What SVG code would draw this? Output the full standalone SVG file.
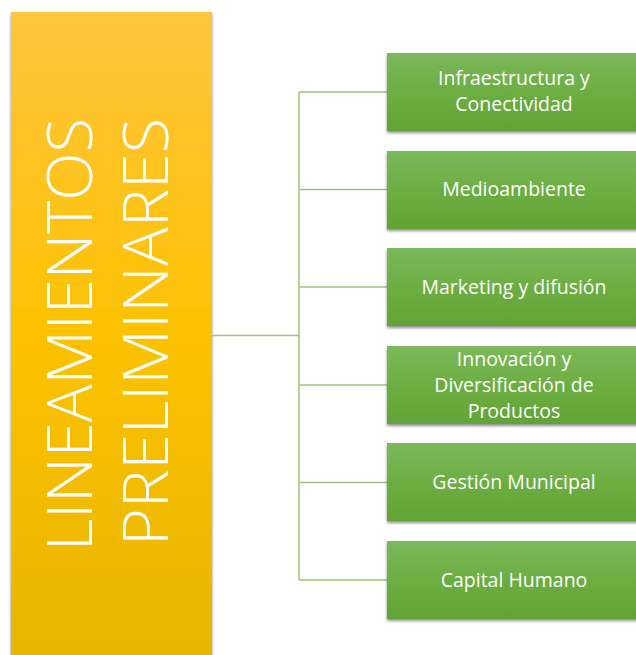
<svg xmlns="http://www.w3.org/2000/svg" width="636" height="655" viewBox="0 0 636 655">
<defs>
<linearGradient id="gy" x1="0" y1="0" x2="0" y2="1">
<stop offset="0" stop-color="#fec53f"/>
<stop offset="0.5" stop-color="#fcc200"/>
<stop offset="1" stop-color="#e6b400"/>
</linearGradient>
<linearGradient id="gg" x1="0" y1="0" x2="0" y2="1">
<stop offset="0" stop-color="#7cb85c"/>
<stop offset="0.5" stop-color="#6cae42"/>
<stop offset="1" stop-color="#62a335"/>
</linearGradient>
<filter id="sh" x="-10%" y="-10%" width="130%" height="130%">
<feGaussianBlur in="SourceAlpha" stdDeviation="1.5"/>
<feOffset dx="0" dy="2" result="b"/>
<feComponentTransfer><feFuncA type="linear" slope="0.45"/></feComponentTransfer>
<feMerge><feMergeNode/><feMergeNode in="SourceGraphic"/></feMerge>
</filter>
</defs>
<style>
.box{fill:url(#gg);filter:url(#sh)}
.lbl{font-family:"Open Sans","Liberation Sans",sans-serif;font-size:19.5px;fill:#ffffff;text-anchor:middle}
.big{font-family:"Open Sans","Liberation Sans",sans-serif;font-size:63px;font-weight:300;fill:#ffffff}
.con{stroke:#9cc47e;stroke-width:1.5;fill:none}
</style>
<g id="main">
<rect x="11" y="12" width="201" height="660" fill="url(#gy)" filter="url(#sh)"/>
<text class="big" transform="translate(92,551) rotate(-90)" textLength="433" lengthAdjust="spacingAndGlyphs">LINEAMIENTOS</text>
<text class="big" transform="translate(168,546) rotate(-90)" textLength="428" lengthAdjust="spacingAndGlyphs">PRELIMINARES</text>
</g>
<g id="connectors">
<path class="con" d="M212 335.5H299M299 92V580M299 92H387M299 189.5H387M299 287H387M299 385H387M299 482.5H387M299 580H387"/>
</g>
<g id="n1"><rect class="box" x="387" y="53" width="254" height="78"/>
<text class="lbl" x="514" y="85">Infraestructura y</text><text class="lbl" x="514" y="111">Conectividad</text></g>
<g id="n2"><rect class="box" x="387" y="151" width="254" height="78"/>
<text class="lbl" x="514" y="196">Medioambiente</text></g>
<g id="n3"><rect class="box" x="387" y="248" width="254" height="78"/>
<text class="lbl" x="514" y="294">Marketing y difusión</text></g>
<g id="n4"><rect class="box" x="387" y="346" width="254" height="78"/>
<text class="lbl" x="514" y="366">Innovación y</text><text class="lbl" x="514" y="392">Diversificación de</text><text class="lbl" x="514" y="418">Productos</text></g>
<g id="n5"><rect class="box" x="387" y="443" width="254" height="78"/>
<text class="lbl" x="514" y="489">Gestión Municipal</text></g>
<g id="n6"><rect class="box" x="387" y="541" width="254" height="78"/>
<text class="lbl" x="514" y="587">Capital Humano</text></g>
</svg>
